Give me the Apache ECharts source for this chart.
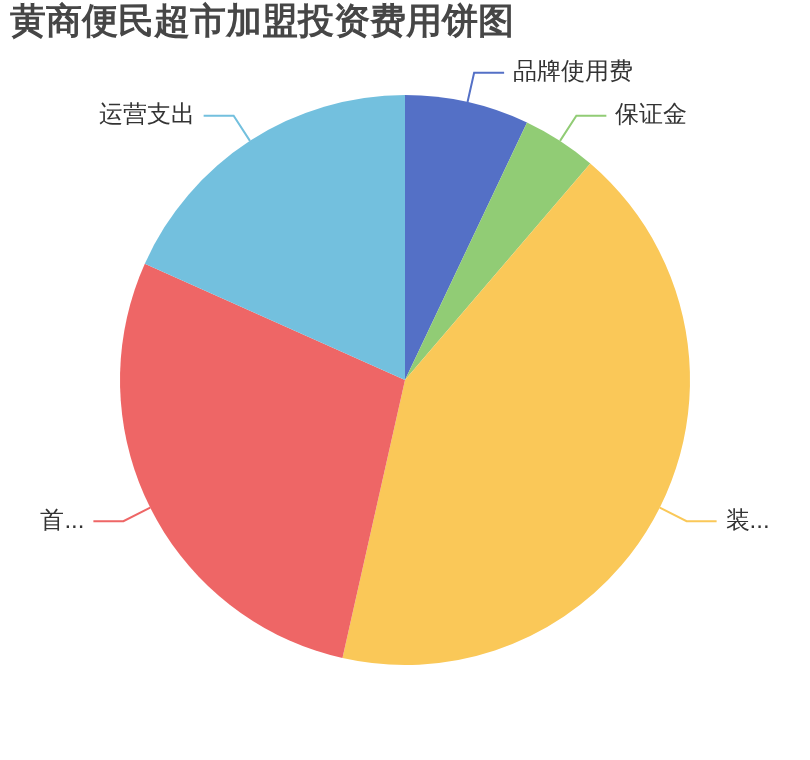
<!DOCTYPE html>
<html>
<head>
<meta charset="utf-8">
<script src="https://cdn.jsdelivr.net/npm/echarts@6/dist/echarts.min.js"></script>
<style>
  html, body { margin: 0; padding: 0; background: #fff; }
  #chart { width: 810px; height: 760px; }
</style>
</head>
<body>
<div id="chart"></div>
<script>
const names = ["品牌使用费", "保证金", "装修费用", "首批进货", "运营支出"];
const values = [5, 3, 30, 20, 13];
const colors = ["#5470c6", "#91cc75", "#fac858", "#ee6666", "#73c0de"];

const chart = echarts.init(document.getElementById("chart"));

const pieData = names.map((n, i) => ({ name: n, value: values[i] }));

chart.setOption({
  color: colors,
  title: {
    text: "黄商便民超市加盟投资费用饼图",
    left: 5,
    top: 0,
    textStyle: { fontSize: 36, fontWeight: "bold", color: "#464646" },
  },
  series: [
    {
      type: "pie",
      left: 18,
      right: 18,
      center: ["50%", "50%"],
      radius: "75%",
      data: pieData,
      label: { fontSize: 24, color: "#333", distanceToLabelLine: 9 },
      labelLine: { length: 30, length2: 30, lineStyle: { width: 2 } },
    },
  ],
});
</script>
</body>
</html>
